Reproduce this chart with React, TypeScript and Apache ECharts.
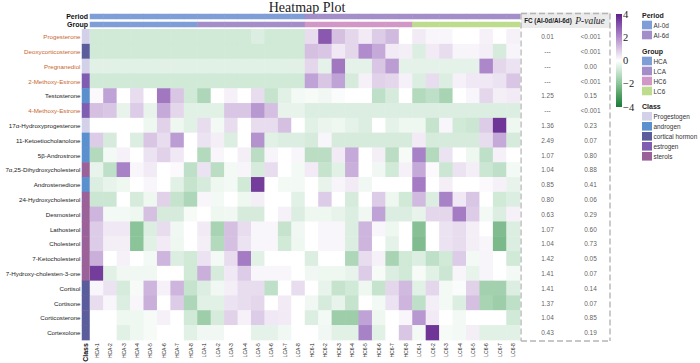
import React, { useEffect, useRef } from "react";
import * as echarts from "echarts";

const columns = [
  "HCA-1", "HCA-2", "HCA-3", "HCA-4", "HCA-5", "HCA-6", "HCA-7", "HCA-8",
  "LCA-1", "LCA-2", "LCA-3", "LCA-4", "LCA-5", "LCA-6", "LCA-7", "LCA-8",
  "HC6-1", "HC6-2", "HC6-3", "HC6-4", "HC6-5", "HC6-6", "HC6-7", "HC6-8",
  "LC6-1", "LC6-2", "LC6-3", "LC6-4", "LC6-5", "LC6-6", "LC6-7", "LC6-8",
];

const compounds = [
  "Progesterone", "Deoxycorticosterone", "Pregnanediol", "2-Methoxy-Estrone",
  "Testosterone", "4-Methoxy-Estrone", "17α-Hydroxyprogesterone",
  "11-Ketoetiocholanolone", "5β-Androstrone", "7α,25-Dihydroxycholesterol",
  "Androstenedione", "24-Hydroxycholesterol", "Desmosterol", "Lathosterol",
  "Cholesterol", "7-Ketocholesterol", "7-Hydroxy-cholesten-3-one", "Cortisol",
  "Cortisone", "Corticosterone", "Cortexolone",
];

const highlighted = [
  "Progesterone", "Deoxycorticosterone", "Pregnanediol", "2-Methoxy-Estrone", "4-Methoxy-Estrone",
];

const classNames = ["Progestogen", "androgen", "cortical hormon", "estrogen", "sterols"];
const classColors = ["#d3d0ea", "#5b90cf", "#5b5c9c", "#7f5eb1", "#9a6298"];
// class index of each compound
const compoundClass = [0, 2, 0, 3, 1, 3, 0, 1, 1, 4, 1, 4, 4, 4, 4, 4, 4, 2, 2, 2, 2];

const periodNames = ["AI-0d", "AI-6d"];
const periodColors = ["#7f9dd6", "#a38ec9"];
const groupNames = ["HCA", "LCA", "HC6", "LC6"];
const groupColors = ["#7f9dd6", "#a38ec9", "#d097c7", "#bedc8d"];
const groupPeriod = [0, 0, 1, 1];

const fcValues = [
  "0.01", "---", "---", "---", "1.25", "---", "1.36", "2.49", "1.07", "1.04", "0.85",
  "0.80", "0.63", "1.07", "1.04", "1.42", "1.41", "1.41", "1.37", "1.04", "0.43",
];
const pValues = [
  "<0.001", "<0.001", "0.00", "<0.001", "0.15", "<0.001", "0.23", "0.07", "0.80", "0.88", "0.41",
  "0.06", "0.29", "0.60", "0.73", "0.05", "0.07", "0.14", "0.07", "0.85", "0.19",
];

const heatValues = [
  [-0.8, -0.8, -0.8, -0.8, -0.8, -0.8, -0.8, -0.8, -0.8, -0.8, -0.8, -0.8, -0.6, -0.8, -0.8, -0.8,
    0.6, 3.0, 1.1, 0.7, 0.35, 0.9, 1.2, 0, 0.35, 0.15, 0.15, 0, 0, 0.25, 0, 0.25],
  [-0.8, -0.8, -0.8, -0.8, -0.8, -0.8, -0.8, -0.8, -0.8, -0.8, -0.8, -0.8, -0.8, -0.8, -0.8, -0.8,
    1.1, 1.0, 0.4, 0.7, 2.0, 1.5, 0.35, 0.3, -0.6, 0.35, 0.6, 0.2, 0.2, 0.3, -0.7, 0.2],
  [-0.5, -0.5, -0.5, -0.5, -0.5, -0.5, -0.5, -0.5, -0.5, -0.5, -0.5, -0.5, -0.5, -0.5, -0.5, -0.5,
    0.7, -0.45, 2.4, -0.45, -0.45, 1.0, 1.7, -0.45, -0.45, -0.45, -0.45, -0.45, -0.45, 2.1, 0.7, 0.5],
  [-0.8, -0.8, -0.8, -0.8, -0.8, -0.8, -0.8, -0.8, -0.8, -0.8, -0.8, -0.8, -0.8, -0.8, -0.8, -0.8,
    1.6, 1.0, 1.6, -0.7, 0.25, 0.8, 0.7, 0.25, -0.6, 0.6, -0.6, 0.25, 0.4, 0.4, 0.5, 1.0],
  [0.1, 1.6, 0, 0.6, 0, 2.4, 1.0, -0.8, -1.4, 0, 0.25, 0, 0.6, -1.0, -0.5, -0.2,
    -0.15, -0.25, -0.1, 0, 0, -1.1, -0.7, 0, -1.3, -1.1, -1.5, 0, 0.15, 0.7, 0.3, 0.35],
  [1.1, 1.0, -0.4, 0.9, -0.4, 1.5, 0.7, -0.5, -0.5, -0.5, 1.0, 1.0, 1.8, 1.1, -0.4, -0.4,
    -0.6, -0.6, -0.6, -0.6, -0.6, -0.6, -0.6, -0.6, -0.6, -0.6, -0.6, -0.6, -0.6, -0.6, -0.6, -0.6],
  [0, 0, 0, 0, -0.3, 0.8, -0.3, -0.5, 0.6, -0.2, 0.6, 0, 0.6, 0.6, 1.1, 0,
    -0.5, -0.35, -0.3, -0.45, -0.6, 0, -0.45, -0.3, -0.3, -1.0, 0.15, -0.8, -0.9, 0.9, 3.6, -0.3],
  [0.9, -0.7, 0, -0.6, 1.0, 0.6, 1.7, 0, 0.5, 0.3, -0.6, 0, 1.9, -0.5, -0.6, -0.6,
    -0.7, 0.15, -0.7, -0.7, -0.7, -0.7, -0.7, -0.7, 0.35, -0.7, -0.7, -0.7, -0.7, 0.6, 1.5, -0.7],
  [-1.3, -0.2, 0.25, 0, 0.5, 0.8, 0.4, 0, -1.3, 0.15, 0, 0.3, -1.2, 0.2, 0, 0.15,
    -1.2, -1.2, 0.35, 1.5, 0, 0.3, -1.2, -0.15, 2.2, -1.3, 0.5, 0, -0.3, -1.1, 0.25, 0],
  [-0.4, -1.1, 2.2, 0.15, 0.35, 0, 0.1, -1.1, 0.5, -1.2, -0.2, 0.2, -0.7, 0.6, 0, -0.2,
    0.35, -1.0, -0.5, 1.4, 0, -0.25, -0.8, 0.25, 1.5, 0.1, -0.9, 0.5, 0.3, -0.9, -1.1, -0.2],
  [-0.6, -0.4, -0.3, 0, 0.15, 0, -0.5, -1.0, -0.7, -0.3, -0.2, -0.8, 3.5, 0, -0.2, -0.2,
    0, -0.4, 0.2, 0.35, -0.25, 0, 0, 0, 2.3, 0, 0.3, 0, 0, 0.1, 0.25, -0.4],
  [-0.9, -0.9, 0, -0.7, -0.3, 0.8, -1.0, -1.4, 0.15, -0.2, 0, -0.3, 0.3, 0, 0, -0.5,
    0, 0.9, 0, -0.7, 0, 0.9, -0.3, -0.8, 1.2, -0.6, 2.2, 0.4, 1.0, 0, -0.8, -0.6],
  [1.3, -0.2, -0.2, -0.3, 1.1, -0.7, -0.7, -0.15, 0, -0.3, -0.25, -0.7, -0.7, 0, 0.25, -0.6,
    -0.3, -0.3, -0.4, -0.6, -0.25, 1.6, -0.6, -0.6, -0.4, 0.7, 0.7, 2.3, 0.9, -0.2, -0.6, 0.25],
  [0.9, 0.4, 0.4, -2.0, -0.6, 0.6, -0.25, 0, 0.35, -1.5, 1.1, 0.6, 0.15, 0.15, -1.0, -0.25,
    0, 0.15, 0.15, -0.6, 1.3, 0.15, -0.3, 0, -2.1, 0, 0.5, 0.6, 0.3, 0, -2.2, -0.6],
  [0.9, 0.3, 0.3, -2.0, -0.5, 0.35, -0.3, 0, 0.3, -1.3, 1.1, 0.5, 0.15, 0.15, -0.8, -0.3,
    0, 0.15, 0.15, -0.6, 1.3, 0, -0.45, 0, -2.2, 0, 0.5, 0.6, 0.3, 0.15, -2.3, -0.6],
  [1.4, 0, 0.25, 0, -0.2, 1.3, -0.6, -0.8, 0.5, -0.2, 0.6, 2.3, -0.5, 0, 0, 0,
    -0.6, 0, 0, -1.4, 0.6, 0.25, -1.5, -0.8, -0.6, -1.1, -0.8, 0.9, -0.2, 0.2, 0, -0.8],
  [3.5, -0.5, -0.25, -0.25, -0.25, 0, 0, -0.8, 1.4, -0.7, 0.4, 0.9, 0.15, 0.15, 0.15, 0,
    -0.25, -0.3, -0.3, -0.4, 0.9, -0.15, -0.6, -0.8, -0.15, -0.5, -0.9, 0.2, -0.4, 0.2, 0, -0.2],
  [0.15, 0.5, -0.7, -0.15, 1.3, 0.25, 1.3, -1.0, -0.6, -0.25, 0.3, 0.6, 0.6, -1.1, 0, 0.6,
    0, -0.4, -1.0, -0.8, -0.3, -1.0, 0.7, 1.2, -0.5, 0.7, -0.2, -0.1, 0.8, -1.6, -1.6, -0.6],
  [0.6, 0.15, -0.6, 0.15, 1.4, 0, 0.9, -1.4, -0.5, -0.5, 0.5, 0.6, 0.7, 0, 0.35, 0,
    -0.25, -0.7, -0.4, -1.0, 0, -0.2, 0.5, 1.3, -1.1, 0.3, -0.2, -0.6, 1.1, -1.5, -1.7, -1.1],
  [0, 0, -0.3, -0.3, -0.15, 0.25, 0, -0.8, -1.7, -0.7, 0.8, 0.25, 0.9, 0.4, 0.35, 0,
    -0.6, -0.2, -1.7, -1.7, 1.6, -0.3, 0, 0.15, 1.8, 0.35, 0, -0.2, 0, 0, 0, -0.8],
  [0, 0, -0.5, -0.3, -0.15, 0, 0, -0.5, -0.25, -0.25, 0, 0, -0.45, -0.45, -0.25, 0,
    0, -0.25, -0.5, -0.5, 2.2, -0.5, 0, 1.0, -0.2, 3.6, -0.15, -0.2, 0.3, -0.5, -0.5, -0.5],
];

const colorbarTicks = [4, 2, 0, -2, -4];
const scaleColors = [
  "#1b7a3a", "#4f9e62", "#8cc49a", "#c5e3cd", "#ffffff",
  "#d9c6e4", "#b08ccc", "#8a58ae", "#5e2088",
];

const SANS = 'Arial, "Liberation Sans", sans-serif';
const SERIF = '"Times New Roman", "Liberation Serif", serif';
const ORANGE = "#c8662e";

export default function App() {
  const ref = useRef<HTMLDivElement>(null);

  useEffect(() => {
    if (!ref.current) return;
    const chart = echarts.init(ref.current, undefined, { renderer: "svg" });

    const L = 90, T = 29.3, W = 430, H = 310.8;
    const columnGroup = columns.map((c) => groupNames.findIndex((g) => c.startsWith(g)));

    const heatData: number[][] = [];
    heatValues.forEach((row, r) => row.forEach((v, c) => heatData.push([c, r, v])));

    const classData = compounds.map((_, r) => [0, r, compoundClass[r]]);
    const periodData = columns.map((_, c) => [c, 0, 10 + groupPeriod[columnGroup[c]]]);
    const groupData = columns.map((_, c) => [c, 0, 20 + columnGroup[c]]);

    const pieces: any[] = [];
    classColors.forEach((col, i) => pieces.push({ value: i, color: col }));
    periodColors.forEach((col, i) => pieces.push({ value: 10 + i, color: col }));
    groupColors.forEach((col, i) => pieces.push({ value: 20 + i, color: col }));

    const cbX = 616, cbY = 14, cbW = 6, cbH = 93;
    const graphics: any[] = [];
    graphics.push({
      type: "text", x: 307, y: 7.3,
      style: { text: "Heatmap Plot", font: `14px ${SERIF}`, fill: "#222", align: "center", verticalAlign: "middle" },
    });
    // table header
    graphics.push({
      type: "rect", shape: { x: 521, y: 12.5, width: 89, height: 15.5 },
      style: { fill: "#ebebeb" }, z: 1,
    });
    graphics.push({
      type: "text", x: 548, y: 20.5,
      style: { text: "FC (AI-0d/AI-6d)", font: `bold 6.3px ${SANS}`, fill: "#222", align: "center", verticalAlign: "middle" }, z: 3,
    });
    graphics.push({
      type: "text", x: 590, y: 21,
      style: { text: "P-value", font: `italic 9.5px ${SERIF}`, fill: "#222", align: "center", verticalAlign: "middle" }, z: 3,
    });
    const dash = { stroke: "#b5b5b5", lineWidth: 1.4, lineDash: [6, 3] };
    graphics.push({ type: "line", shape: { x1: 521, y1: 13.5, x2: 610, y2: 13.5 }, style: dash, z: 2 });
    graphics.push({ type: "line", shape: { x1: 521, y1: 13.5, x2: 521, y2: 341 }, style: dash, z: 2 });
    graphics.push({ type: "line", shape: { x1: 610, y1: 13.5, x2: 610, y2: 341 }, style: dash, z: 2 });
    graphics.push({ type: "line", shape: { x1: 521, y1: 341, x2: 610, y2: 341 }, style: dash, z: 2 });

    // colorbar
    const stops = scaleColors
      .slice()
      .reverse()
      .map((c, i) => ({ offset: i / (scaleColors.length - 1), color: c }));
    graphics.push({
      type: "rect", shape: { x: cbX, y: cbY, width: cbW, height: cbH },
      style: { fill: new echarts.graphic.LinearGradient(0, 0, 0, 1, stops) },
    });
    colorbarTicks.forEach((t) => {
      graphics.push({
        type: "text", x: cbX + cbW + 1, y: cbY + ((4 - t) / 8) * cbH,
        style: {
          text: t < 0 ? `\u2212${Math.abs(t)}` : String(t),
          font: `10.5px ${SERIF}`, fill: "#222", align: "left", verticalAlign: "middle",
        },
      });
    });

    // legends
    const legendX = 642;
    const addLegend = (title: string, titleY: number, names: string[], colors: string[], startY: number) => {
      graphics.push({
        type: "text", x: legendX, y: titleY,
        style: { text: title, font: `bold 7px ${SANS}`, fill: "#222", verticalAlign: "middle" },
      });
      names.forEach((n, i) => {
        const y = startY + i * 10;
        graphics.push({ type: "rect", shape: { x: legendX, y, width: 10, height: 8.6 }, style: { fill: colors[i] } });
        graphics.push({
          type: "text", x: legendX + 11.5, y: y + 4.5,
          style: { text: n, font: `6.4px ${SANS}`, fill: "#333", verticalAlign: "middle" },
        });
      });
    };
    addLegend("Period", 15.7, periodNames, periodColors, 20.7);
    addLegend("Group", 51, groupNames, groupColors, 56.7);
    addLegend("Class", 106, classNames, classColors, 112);

    const noAxis = { show: false };
    const g = (left: number, top: number, width: number, height: number) => ({
      left, top, width, height, containLabel: false, outerBoundsMode: "none",
    });
    const option: any = {
      animation: false,
      backgroundColor: "#ffffff",
      grid: [
        g(L, T, W, H),
        g(82, T, 7.5, H),
        g(L, 14, W, 5),
        g(L, 22, W, 5),
        g(526, T, 86, H),
      ],
      xAxis: [
        {
          type: "category", gridIndex: 0, data: columns, position: "bottom",
          axisLine: noAxis, axisTick: noAxis, splitLine: noAxis,
          axisLabel: { rotate: 90, fontSize: 5, margin: 3, color: "#222", fontFamily: SANS, interval: 0 },
        },
        {
          type: "category", gridIndex: 1, data: ["Class"], position: "bottom",
          axisLine: noAxis, axisTick: noAxis,
          axisLabel: { rotate: 90, fontSize: 7, fontWeight: "bold", margin: 3, color: "#111", fontFamily: SANS },
        },
        { type: "category", gridIndex: 2, data: columns, show: false },
        { type: "category", gridIndex: 3, data: columns, show: false },
        { type: "category", gridIndex: 4, data: ["FC", "P"], show: false },
      ],
      yAxis: [
        { type: "category", gridIndex: 0, data: compounds, inverse: true, show: false },
        {
          type: "category", gridIndex: 1, inverse: true,
          data: compounds.map((c) => ({ value: c, textStyle: { color: highlighted.includes(c) ? ORANGE : "#222" } })),
          axisLine: noAxis, axisTick: noAxis,
          axisLabel: { fontSize: 6.2, margin: 1.5, fontFamily: SANS, interval: 0 },
        },
        {
          type: "category", gridIndex: 2, data: ["Period"],
          axisLine: noAxis, axisTick: noAxis,
          axisLabel: { fontSize: 7, fontWeight: "bold", margin: 2, color: "#111", fontFamily: SANS },
        },
        {
          type: "category", gridIndex: 3, data: ["Group"],
          axisLine: noAxis, axisTick: noAxis,
          axisLabel: { fontSize: 7, fontWeight: "bold", margin: 2, color: "#111", fontFamily: SANS },
        },
        { type: "category", gridIndex: 4, data: compounds, inverse: true, show: false },
      ],
      visualMap: [
        {
          show: false, type: "continuous", min: -4, max: 4, seriesIndex: 0, dimension: 2,
          inRange: { color: scaleColors },
        },
        {
          show: false, type: "piecewise", seriesIndex: [1, 2, 3], dimension: 2, pieces,
        },
      ],
      series: [
        { type: "heatmap", xAxisIndex: 0, yAxisIndex: 0, data: heatData, silent: true },
        { type: "heatmap", xAxisIndex: 1, yAxisIndex: 1, data: classData, silent: true },
        { type: "heatmap", xAxisIndex: 2, yAxisIndex: 2, data: periodData, silent: true },
        { type: "heatmap", xAxisIndex: 3, yAxisIndex: 3, data: groupData, silent: true },
        {
          type: "scatter", xAxisIndex: 4, yAxisIndex: 4, silent: true,
          symbolSize: 1, itemStyle: { color: "rgba(0,0,0,0)" },
          data: compounds.map((_, r) => [0, r]),
          label: {
            show: true, position: "inside", fontSize: 6.5, color: "#333", fontFamily: SANS,
            formatter: (p: any) => fcValues[p.dataIndex],
          },
        },
        {
          type: "scatter", xAxisIndex: 4, yAxisIndex: 4, silent: true,
          symbolSize: 1, itemStyle: { color: "rgba(0,0,0,0)" },
          data: compounds.map((_, r) => [1, r]),
          label: {
            show: true, position: "inside", fontSize: 6.5, color: "#333", fontFamily: SANS,
            formatter: (p: any) => pValues[p.dataIndex],
          },
        },
      ],
      graphic: graphics,
    };

    chart.setOption(option);
    return () => chart.dispose();
  }, []);

  return (
    <div
      ref={ref}
      style={{ position: "absolute", left: 0, top: 0, width: 700, height: 363, background: "#fff" }}
    />
  );
}
